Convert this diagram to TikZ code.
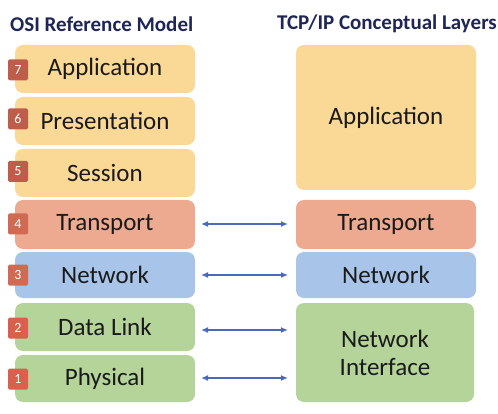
\documentclass[tikz,border=0pt]{standalone}
\usepackage{fontspec}
\setmainfont{Carlito}
\usetikzlibrary{arrows.meta}
\definecolor{titlec}{HTML}{1F2655}
\definecolor{appc}{HTML}{FAD896}
\definecolor{transc}{HTML}{EDAA90}
\definecolor{netc}{HTML}{A8C4E8}
\definecolor{linkc}{HTML}{B4D49A}
\definecolor{badgea}{HTML}{BE5E4A}
\definecolor{badgeb}{HTML}{D06A52}
\definecolor{badgec}{HTML}{D9604C}
\definecolor{arrowc}{HTML}{4A6AB8}
\definecolor{txtc}{HTML}{1A1A1A}
\tikzset{
  layer/.style={rectangle, rounded corners=8pt, minimum width=180pt, minimum height=48pt,
    inner sep=0pt, text=txtc, font=\fontsize{25}{28}\selectfont, align=center},
  badge/.style={rectangle, rounded corners=1.5pt, fill=badgec, minimum width=20pt, minimum height=21pt,
    inner sep=0pt, text=white, font=\fontsize{14}{15}\selectfont},
  title/.style={text=titlec, font=\bfseries\fontsize{21}{24}\selectfont, inner sep=0pt},
  link/.style={arrowc, line width=1.8pt, {Latex[length=7pt,width=6pt]}-{Latex[length=7pt,width=6pt]}}
}
\begin{document}
\begin{tikzpicture}[x=1pt,y=-1pt]
\useasboundingbox (0,0) rectangle (498,414);
\fill[white] (0,0) rectangle (498,414);
% titles
\node[title, anchor=west] (t1) at (10,24) {OSI Reference Model};
\node[title, anchor=east] (t2) at (497,24) {TCP/IP Conceptual Layers};
% OSI layers
\node[layer, fill=appc] (app) at (105,69) {Application};
\node[layer, fill=appc] (pres) at (105,121) {Presentation};
\node[layer, fill=appc] (sess) at (105,173) {Session};
\node[layer, fill=transc, minimum height=49pt] (trans) at (105,224.5) {Transport};
\node[layer, fill=netc, minimum height=46pt] (net) at (105,275) {Network};
\node[layer, fill=linkc] (dl) at (105,327) {Data Link};
\node[layer, fill=linkc, minimum height=47pt] (phy) at (105,378.5) {Physical};
% badges
\node[badge, fill=badgea] (b7) at (18,70) {7};
\node[badge, fill=badgea] (b6) at (18,119) {6};
\node[badge, fill=badgea] (b5) at (18,171.5) {5};
\node[badge, fill=badgeb] (b4) at (18,224) {4};
\node[badge, fill=badgeb] (b3) at (18,275) {3};
\node[badge] (b2) at (18,328) {2};
\node[badge] (b1) at (18,379) {1};
% TCP/IP layers
\node[layer, fill=appc, minimum height=145pt] (tapp) at (386,117.5) {Application};
\node[layer, fill=transc, minimum height=49pt] (ttrans) at (386,224.5) {Transport};
\node[layer, fill=netc, minimum height=46pt] (tnet) at (386,275) {Network};
\node[layer, fill=linkc, minimum height=99pt, minimum width=178pt] (tni) at (385,352.5) {Network\\Interface};
% arrows
\coordinate (a4l) at (201,224);
\coordinate (a4r) at (288,224);
\coordinate (a3l) at (201,275);
\coordinate (a3r) at (288,275);
\coordinate (a2l) at (201,330);
\coordinate (a2r) at (288,330);
\coordinate (a1l) at (201,378);
\coordinate (a1r) at (288,378);
\draw[link] (a4l) -- (a4r);
\draw[link] (a3l) -- (a3r);
\draw[link] (a2l) -- (a2r);
\draw[link] (a1l) -- (a1r);
\end{tikzpicture}
\end{document}
